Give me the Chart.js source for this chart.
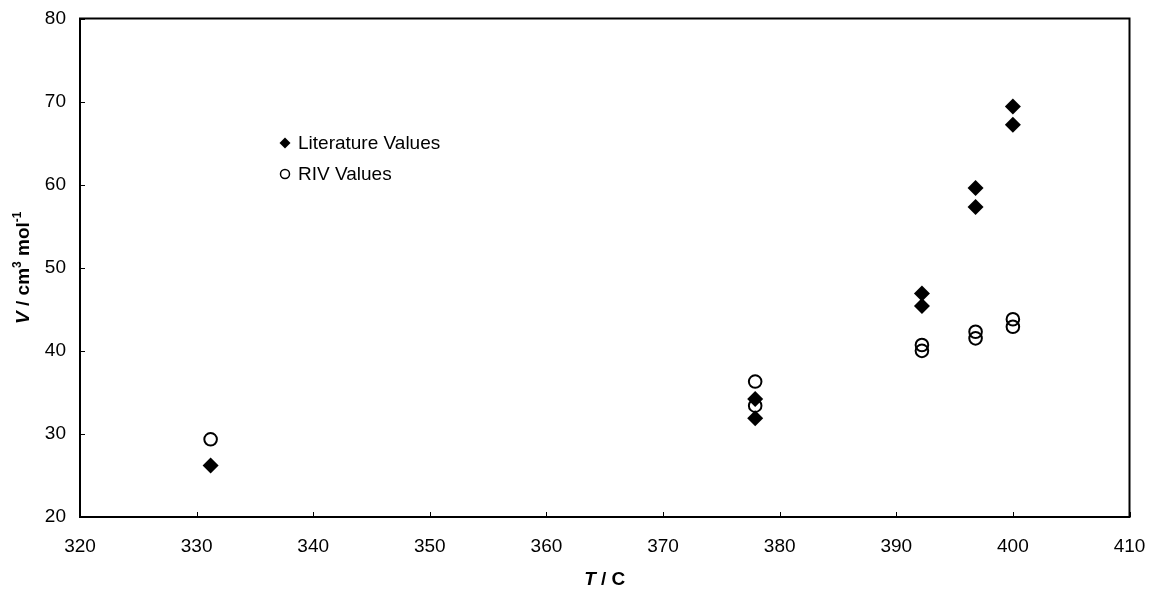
<!DOCTYPE html>
<html>
<head>
<meta charset="utf-8">
<script src="https://cdn.jsdelivr.net/npm/chart.js@4"></script>
<style>
  html, body { margin: 0; padding: 0; background: #fff; }
  #wrap { width: 1156px; height: 591px; }
</style>
</head>
<body>
<div id="wrap"><canvas id="c" width="1156" height="591"></canvas></div>
<script>
// Temperatures (°C) and molar volumes (cm3/mol)
const litT = [331.2, 377.9, 377.9, 392.2, 392.2, 396.8, 396.8, 400.0, 400.0];
const litV = [26.2, 34.2, 31.9, 46.9, 45.4, 59.6, 57.3, 69.4, 67.2];
const rivT = [331.2, 377.9, 377.9, 392.2, 392.2, 396.8, 396.8, 400.0, 400.0];
const rivV = [29.35, 36.3, 33.4, 40.7, 40.0, 42.3, 41.5, 43.8, 42.9];

const xTicks = [320, 330, 340, 350, 360, 370, 380, 390, 400, 410];
const yTicks = [20, 30, 40, 50, 60, 70, 80];

const seriesNames = ['Literature Values', 'RIV Values'];

const FONT = '"Liberation Sans", Arial, sans-serif';

const toPoints = (xs, ys) => xs.map((x, i) => ({ x: x, y: ys[i] }));

// Inward tick marks, frame, axis titles and the inset legend
const decor = {
  id: 'decor',
  afterDraw(chart) {
    const ctx = chart.ctx;
    const a = chart.chartArea;
    const xs = chart.scales.x, ys = chart.scales.y;
    ctx.save();

    // tick marks pointing into the plot
    ctx.strokeStyle = '#000';
    ctx.lineWidth = 1;
    ctx.beginPath();
    xTicks.forEach(v => {
      const px = Math.round(xs.getPixelForValue(v)) + 0.5;
      ctx.moveTo(px, a.bottom);
      ctx.lineTo(px, a.bottom - 5);
    });
    yTicks.forEach(v => {
      const py = Math.round(ys.getPixelForValue(v)) + 0.5;
      ctx.moveTo(a.left, py);
      ctx.lineTo(a.left + 5, py);
    });
    ctx.stroke();

    // frame
    ctx.lineWidth = 2;
    ctx.strokeRect(a.left, a.top, a.right - a.left, a.bottom - a.top);

    // x title: T / C
    ctx.fillStyle = '#000';
    ctx.textBaseline = 'alphabetic';
    const cx = (a.left + a.right) / 2;
    const parts = [
      { t: 'T', f: 'italic bold 19px ' + FONT },
      { t: ' / C', f: 'bold 19px ' + FONT }
    ];
    let total = 0;
    parts.forEach(p => { ctx.font = p.f; p.w = ctx.measureText(p.t).width; total += p.w; });
    let x0 = cx - total / 2;
    parts.forEach(p => { ctx.font = p.f; ctx.fillText(p.t, x0, 585); x0 += p.w; });

    // y title: V / cm3 mol-1, rotated
    const yparts = [
      { t: 'V', f: 'italic bold 19px ' + FONT, dy: 0 },
      { t: ' / cm', f: 'bold 19px ' + FONT, dy: 0 },
      { t: '3', f: 'bold 12px ' + FONT, dy: -8 },
      { t: ' mol', f: 'bold 19px ' + FONT, dy: 0 },
      { t: '-1', f: 'bold 12px ' + FONT, dy: -8 }
    ];
    let ytot = 0;
    yparts.forEach(p => { ctx.font = p.f; p.w = ctx.measureText(p.t).width; ytot += p.w; });
    ctx.translate(29, (a.top + a.bottom) / 2);
    ctx.rotate(-Math.PI / 2);
    let y0 = -ytot / 2;
    yparts.forEach(p => { ctx.font = p.f; ctx.fillText(p.t, y0, p.dy); y0 += p.w; });
    ctx.setTransform(1, 0, 0, 1, 0, 0);

    // inset legend
    const lx = 285, ly = [143, 174];
    ctx.font = '19px ' + FONT;
    ctx.textBaseline = 'middle';
    chart.data.datasets.forEach((ds, i) => {
      const y = ly[i];
      ctx.beginPath();
      if (ds.pointStyle === 'rectRot') {
        const r = 5.5;
        ctx.moveTo(lx, y - r); ctx.lineTo(lx + r, y); ctx.lineTo(lx, y + r); ctx.lineTo(lx - r, y);
        ctx.closePath();
        ctx.fillStyle = '#000';
        ctx.fill();
      } else {
        ctx.arc(lx, y, 4.5, 0, Math.PI * 2);
        ctx.lineWidth = 1.5;
        ctx.strokeStyle = '#000';
        ctx.stroke();
      }
      ctx.fillStyle = '#000';
      ctx.fillText(ds.label, lx + 13, y + 1);
    });
    ctx.restore();
  }
};

new Chart(document.getElementById('c'), {
  type: 'scatter',
  data: {
    datasets: [
      {
        label: seriesNames[0],
        data: toPoints(litT, litV),
        pointStyle: 'rectRot',
        pointRadius: 8,
        pointHoverRadius: 8,
        backgroundColor: '#000',
        borderColor: '#000',
        borderWidth: 0,
        order: 2
      },
      {
        label: seriesNames[1],
        data: toPoints(rivT, rivV),
        pointStyle: 'circle',
        pointRadius: 6.3,
        pointHoverRadius: 6.3,
        backgroundColor: 'rgba(0,0,0,0)',
        borderColor: '#000',
        borderWidth: 2,
        order: 1
      }
    ]
  },
  options: {
    responsive: false,
    animation: false,
    devicePixelRatio: 1,
    layout: { padding: { top: 18.5, right: 26.5, left: 0, bottom: 0 } },
    plugins: {
      legend: { display: false },
      tooltip: { enabled: false }
    },
    scales: {
      x: {
        type: 'linear',
        min: 320, max: 410,
        afterBuildTicks: s => { s.ticks = xTicks.map(v => ({ value: v })); },
        afterFit: s => { s.height = 74; s.paddingLeft = 0; s.paddingRight = 0; },
        grid: { display: false, drawTicks: false, tickLength: 0 },
        border: { display: false },
        ticks: {
          padding: 18,
          color: '#000',
          font: { family: FONT, size: 19 },
          maxRotation: 0
        }
      },
      y: {
        type: 'linear',
        min: 20, max: 80,
        afterBuildTicks: s => { s.ticks = yTicks.map(v => ({ value: v })); },
        afterFit: s => { s.width = 80; s.paddingTop = 0; s.paddingBottom = 0; },
        grid: { display: false, drawTicks: false, tickLength: 0 },
        border: { display: false },
        ticks: {
          padding: 14,
          color: '#000',
          font: { family: FONT, size: 19 }
        }
      }
    }
  },
  plugins: [decor]
});
</script>
</body>
</html>
